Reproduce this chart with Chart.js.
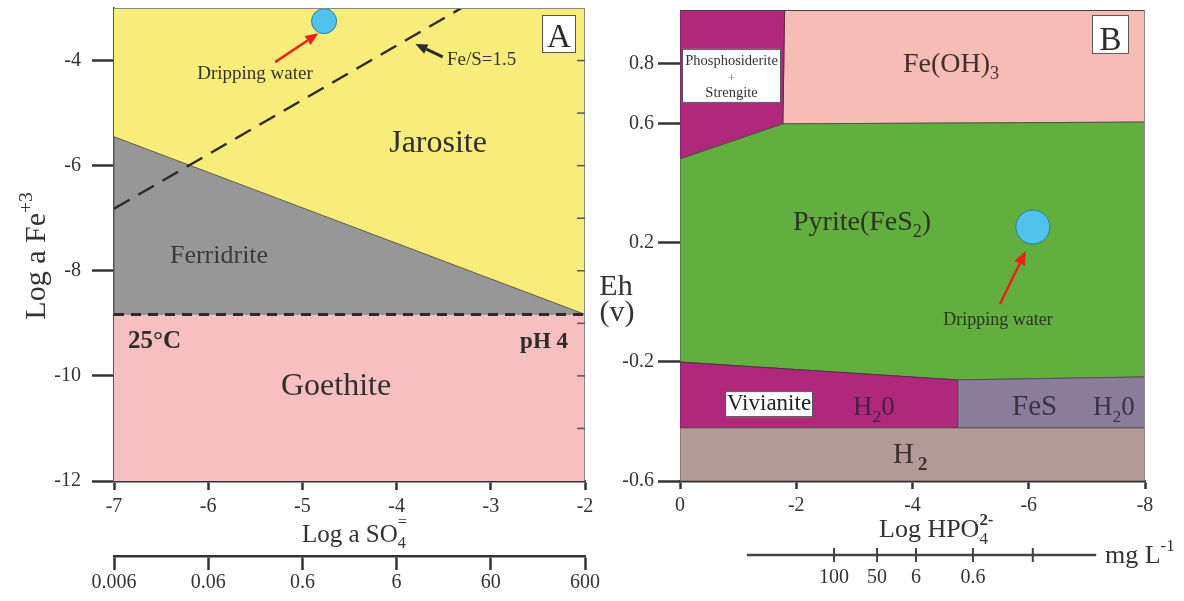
<!DOCTYPE html>
<html>
<head>
<meta charset="utf-8">
<script src="https://cdn.jsdelivr.net/npm/chart.js@4.4.1/dist/chart.umd.min.js"></script>
<style>
  html, body { margin: 0; padding: 0; background: #fff; }
  #wrap { position: relative; width: 1184px; height: 601px; overflow: hidden; }
  #chartA, #chartB { position: absolute; top: 0; }
  #chartA { left: 0; }
  #chartB { left: 600px; }
</style>
</head>
<body>
<div id="wrap">
  <canvas id="chartA" width="600" height="601"></canvas>
  <canvas id="chartB" width="584" height="601"></canvas>
</div>
<script>
// ---- Panel A: Log a Fe+3 vs Log a SO4 ----
const soTicks = [-7, -6, -5, -4, -3, -2];
const soMgLabels = ['0.006', '0.06', '0.6', '6', '60', '600'];
const feTicks = [-12, -10, -8, -6, -4];
const feMinorTicks = [-11, -10, -9, -8, -7, -6, -5, -4];

const jarositeArea = [[-7, -3], [-2, -3], [-2, -8.83], [-7, -5.45]];
const ferridriteArea = [[-7, -5.45], [-2, -8.83], [-7, -8.83]];
const goethiteArea = [[-7, -8.83], [-2, -8.83], [-2, -12], [-7, -12]];
const ph4Line = [[-7, -8.83], [-2, -8.83]];
const feSLine = [[-7, -6.82], [-3.31, -3.0]];
const dripA = [[-4.77, -3.25]];
const dripArrowA = [[-5.29, -4.03], [-4.83, -3.48]];
const feSArrow = [[-3.51, -3.93], [-3.80, -3.685]];

// ---- Panel B: Eh vs Log HPO4 ----
const hpoTicks = [0, -2, -4, -6, -8];
const ehTicks = [0.8, 0.6, 0.2, -0.2, -0.6];
const feOH3Area = [[-1.8, 0.98], [-8, 0.98], [-8, 0.604], [-1.77, 0.598]];
const phosphoArea = [[0, 0.98], [-1.8, 0.98], [-1.77, 0.598], [0, 0.48]];
const pyriteArea = [[0, 0.48], [-1.77, 0.598], [-8, 0.604], [-8, -0.251], [-4.78, -0.261], [0, -0.201]];
const vivianiteArea = [[0, -0.201], [-4.78, -0.261], [-4.78, -0.422], [0, -0.422]];
const fesArea = [[-4.78, -0.261], [-8, -0.251], [-8, -0.422], [-4.78, -0.422]];
const h2Area = [[0, -0.422], [-8, -0.422], [-8, -0.6], [0, -0.6]];
const dripB = [[-6.07, 0.252]];
const dripArrowB = [[-5.505, -0.006], [-5.95, 0.172]];
const mgTickPos = [-2.65, -3.39, -4.06, -5.04, -6.07];
const mgTickLabels = ['100', '50', '6', '0.6', ''];
const mgLineEnds = [-1.15, -7.16];

const serif = '"Liberation Serif", "Times New Roman", serif';
Chart.defaults.font.family = serif;

const xy = pts => pts.map(p => ({ x: p[0], y: p[1] }));

function area(pts, color, edge) {
    return {
        data: xy(pts.concat([pts[0]])),
        fill: 'shape',
        backgroundColor: color,
        borderColor: edge || 'rgba(0,0,0,0)',
        borderWidth: edge ? 1 : 0,
        pointRadius: 0,
        tension: 0
    };
}

function dashed(pts, dash, width) {
    return {
        data: xy(pts),
        fill: false,
        borderColor: '#2b2b2b',
        borderWidth: width,
        borderDash: dash,
        pointRadius: 0
    };
}

function dot(pts, r) {
    return {
        data: xy(pts),
        showLine: false,
        pointRadius: r,
        pointBackgroundColor: '#4fc3ee',
        pointBorderColor: '#2b7f96',
        pointBorderWidth: 1,
        clip: false
    };
}

// text with optional sub / superscript pieces
function drawRich(ctx, parts, x, y, size, align, color) {
    const segs = parts.map(p => typeof p === 'string' ? { t: p } : Object.assign({}, p));
    const fnt = (s, b) => (b ? 'bold ' : '') + s + 'px ' + serif;
    const small = size * 0.65;
    let w = 0;
    segs.forEach(s => {
        if (s.t !== undefined) {
            ctx.font = fnt(size, s.bold);
            s.w = ctx.measureText(s.t).width;
        } else {
            let a = 0, b = 0;
            if (s.sub) { ctx.font = fnt(small, s.subBold); a = ctx.measureText(s.sub).width; }
            if (s.sup) { ctx.font = fnt(small, s.supBold); b = ctx.measureText(s.sup).width; }
            s.w = Math.max(a, b) + (s.pre || 0);
        }
        w += s.w;
    });
    let cx = align === 'center' ? x - w / 2 : align === 'right' ? x - w : x;
    ctx.fillStyle = color || '#333';
    ctx.textAlign = 'left';
    ctx.textBaseline = 'alphabetic';
    segs.forEach(s => {
        if (s.t !== undefined) {
            ctx.font = fnt(size, s.bold);
            ctx.fillText(s.t, cx, y);
        } else {
            if (s.sub) { ctx.font = fnt(small, s.subBold); ctx.fillText(s.sub, cx + (s.pre || 0), y + size * 0.25); }
            if (s.sup) { ctx.font = fnt(small, s.supBold); ctx.fillText(s.sup, cx + (s.pre || 0), y - size * (s.raise || 0.45)); }
        }
        cx += s.w;
    });
}

function drawArrow(ctx, x1, y1, x2, y2, color, width, head) {
    const ang = Math.atan2(y2 - y1, x2 - x1);
    const bx = x2 - head * Math.cos(ang), by = y2 - head * Math.sin(ang);
    const hw = head * 0.42;
    ctx.strokeStyle = color;
    ctx.lineWidth = width;
    ctx.beginPath();
    ctx.moveTo(x1, y1);
    ctx.lineTo(bx, by);
    ctx.stroke();
    ctx.fillStyle = color;
    ctx.beginPath();
    ctx.moveTo(x2, y2);
    ctx.lineTo(bx + hw * Math.sin(ang), by - hw * Math.cos(ang));
    ctx.lineTo(bx - hw * Math.sin(ang), by + hw * Math.cos(ang));
    ctx.closePath();
    ctx.fill();
}

function labelBox(ctx, cx, cy, w, h) {
    ctx.fillStyle = '#fff';
    ctx.fillRect(cx - w / 2, cy - h / 2, w, h);
    ctx.strokeStyle = '#555';
    ctx.lineWidth = 1;
    ctx.strokeRect(cx - w / 2 + 0.5, cy - h / 2 + 0.5, w - 1, h - 1);
}

function frameEdges(chart, topColor, rightColor) {
    const { ctx, chartArea: a } = chart;
    ctx.save();
    ctx.lineWidth = 1;
    ctx.strokeStyle = topColor;
    ctx.beginPath(); ctx.moveTo(a.left, a.top + 0.5); ctx.lineTo(a.right, a.top + 0.5); ctx.stroke();
    ctx.strokeStyle = rightColor;
    ctx.beginPath(); ctx.moveTo(a.right - 0.5, a.top); ctx.lineTo(a.right - 0.5, a.bottom); ctx.stroke();
    ctx.restore();
}

function axisBase(extra) {
    return Object.assign({
        type: 'linear',
        z: 1,
        grid: { drawOnChartArea: false, tickWidth: 2.5, tickColor: '#333' },
        border: { color: '#333', width: 2.5 },
        ticks: { font: { family: serif, size: 20 }, color: '#333', autoSkip: false, maxRotation: 0, callback: v => String(v) }
    }, extra);
}

// ---------- Chart A ----------
const decorA = {
    id: 'decorA',
    afterDatasetsDraw(chart) {
        const { ctx, scales: { x, y }, chartArea: a } = chart;
        const px = v => x.getPixelForValue(v), py = v => y.getPixelForValue(v);
        frameEdges(chart, '#888', '#888');
        ctx.save();
        // inward ticks on the right edge
        ctx.strokeStyle = '#555';
        ctx.lineWidth = 1.5;
        feMinorTicks.forEach(v => {
            ctx.beginPath(); ctx.moveTo(a.right - 8, py(v)); ctx.lineTo(a.right, py(v)); ctx.stroke();
        });
        drawArrow(ctx, px(dripArrowA[0][0]), py(dripArrowA[0][1]), px(dripArrowA[1][0]), py(dripArrowA[1][1]), '#e8231d', 2.5, 13);
        drawArrow(ctx, px(feSArrow[0][0]), py(feSArrow[0][1]), px(feSArrow[1][0]), py(feSArrow[1][1]), '#2b2b2b', 3, 12);

        drawRich(ctx, ['Jarosite'], px(-3.56), py(-5.74), 32, 'center', '#2f2f2f');
        drawRich(ctx, ['Ferridrite'], px(-5.885), py(-7.85), 26, 'center', '#3a3a3a');
        drawRich(ctx, ['Goethite'], px(-4.643), py(-10.36), 32, 'center', '#2f2f2f');
        drawRich(ctx, [{ t: '25°C', bold: true }], px(-6.851), py(-9.469), 25, 'left', '#2b2b2b');
        drawRich(ctx, [{ t: 'pH 4', bold: true }], px(-2.18), py(-9.469), 23, 'right', '#2b2b2b');
        drawRich(ctx, ['Dripping water'], px(-5.503), py(-4.351), 19, 'center', '#333');
        drawRich(ctx, ['Fe/S=1.5'], px(-3.465), py(-4.084), 19, 'left', '#333');

        labelBox(ctx, px(-2.276), py(-3.495), 34, 38);
        drawRich(ctx, ['A'], px(-2.276), py(-3.742), 33, 'center', '#2b2b2b');
        ctx.restore();
    },
    afterDraw(chart) {
        const { ctx } = chart;
        ctx.save();
        ctx.translate(45, 256);
        ctx.rotate(-Math.PI / 2);
        drawRich(ctx, ['Log a Fe', { sup: '+3' }], 0, 0, 30, 'center', '#333');
        ctx.restore();
        ctx.save();
        drawRich(ctx, ['Log a SO', { sub: '4', sup: '=', raise: 0.62 }], 302, 542, 25, 'left', '#333');
        ctx.restore();
    }
};

// datasets listed top-most first (Chart.js paints the last one first)
new Chart(document.getElementById('chartA'), {
    type: 'line',
    data: {
        datasets: [
            dot(dripA, 12.5),
            dashed(feSLine, [18, 10], 2.5),
            dashed(ph4Line, [10, 7], 3),
            area(goethiteArea, '#f7bfbf'),
            area(ferridriteArea, '#979797', '#5d5a40'),
            area(jarositeArea, '#f8ec7b')
        ]
    },
    options: {
        responsive: false,
        animation: false,
        events: [],
        layout: { autoPadding: false, padding: { top: 8, right: 15, bottom: 0, left: 0 } },
        plugins: { legend: { display: false }, tooltip: { enabled: false } },
        scales: {
            x: axisBase({
                min: -7, max: -2, position: 'bottom', weight: 0,
                afterBuildTicks: s => { s.ticks = soTicks.map(v => ({ value: v })); },
                afterFit: s => { s.height = 75; s.paddingLeft = 0; s.paddingRight = 0; },
                grid: { drawOnChartArea: false, tickLength: 9, tickWidth: 2.5, tickColor: '#333' },
                ticks: { font: { family: serif, size: 20 }, color: '#333', padding: 5, autoSkip: false, maxRotation: 0, callback: v => String(v) }
            }),
            x2: axisBase({
                min: -7, max: -2, position: 'bottom', weight: 1,
                afterBuildTicks: s => { s.ticks = soTicks.map(v => ({ value: v })); },
                afterFit: s => { s.height = 45; s.paddingLeft = 0; s.paddingRight = 0; },
                grid: { drawOnChartArea: false, tickLength: 14, tickWidth: 2.5, tickColor: '#333' },
                ticks: { font: { family: serif, size: 20 }, color: '#333', padding: 1, autoSkip: false, maxRotation: 0,
                         callback: v => soMgLabels[soTicks.indexOf(v)] }
            }),
            y: axisBase({
                min: -12, max: -3, position: 'left',
                afterBuildTicks: s => { s.ticks = feTicks.map(v => ({ value: v })); },
                afterFit: s => { s.width = 114; s.paddingTop = 0; s.paddingBottom = 0; },
                grid: { drawOnChartArea: false, tickLength: 22, tickWidth: 2.5, tickColor: '#333' },
                border: { color: '#555', width: 1.5 },
                ticks: { font: { family: serif, size: 20 }, color: '#333', padding: 11, callback: v => String(v) }
            })
        }
    },
    plugins: [decorA]
});

// ---------- Chart B ----------
const decorB = {
    id: 'decorB',
    afterDatasetsDraw(chart) {
        const { ctx, scales: { x, y } } = chart;
        const px = v => x.getPixelForValue(v), py = v => y.getPixelForValue(v);
        frameEdges(chart, '#444', '#888');
        ctx.save();
        drawArrow(ctx, px(dripArrowB[0][0]), py(dripArrowB[0][1]), px(dripArrowB[1][0]), py(dripArrowB[1][1]), '#e8231d', 2.5, 14);

        labelBox(ctx, px(-0.886), py(0.759), 99, 54);
        drawRich(ctx, ['Phosphosiderite'], px(-0.886), py(0.795), 14.5, 'center', '#333');
        drawRich(ctx, ['+'], px(-0.886), py(0.74), 13, 'center', '#777');
        drawRich(ctx, ['Strengite'], px(-0.886), py(0.688), 14.5, 'center', '#333');

        drawRich(ctx, ['Fe(OH)', { sub: '3' }], px(-3.837), py(0.772), 28, 'left', '#3a3030');
        drawRich(ctx, ['Pyrite(FeS', { sub: '2' }, ')'], px(-1.944), py(0.242), 28, 'left', '#2d3326');
        drawRich(ctx, ['Dripping water'], px(-5.471), py(-0.077), 18, 'center', '#2d3326');

        labelBox(ctx, px(-1.531), py(-0.342), 88, 26);
        drawRich(ctx, ['Vivianite'], px(-1.531), py(-0.362), 23, 'center', '#222');
        drawRich(ctx, ['H', { sub: '2' }, '0'], px(-2.976), py(-0.379), 27, 'left', '#4a2040');
        drawRich(ctx, ['FeS'], px(-5.712), py(-0.379), 29, 'left', '#3a3444');
        drawRich(ctx, ['H', { sub: '2' }, '0'], px(-7.105), py(-0.379), 27, 'left', '#3a3444');
        drawRich(ctx, ['H', { sub: '2', subBold: true, pre: 4 }], px(-3.665), py(-0.54), 29, 'left', '#3a3030');

        labelBox(ctx, px(-7.406), py(0.898), 37, 39);
        drawRich(ctx, ['B'], px(-7.406), py(0.846), 33, 'center', '#2b2b2b');
        ctx.restore();
    },
    afterDraw(chart) {
        const { ctx, scales: { x } } = chart;
        const px = v => x.getPixelForValue(v);
        ctx.save();
        drawRich(ctx, ['Eh'], 16, 295, 30, 'center', '#333');
        drawRich(ctx, ['(v)'], 17, 321, 30, 'center', '#333');
        drawRich(ctx, ['Log HPO', { sub: '4', sup: '2-', supBold: true }], 279, 537, 26, 'left', '#333');

        // mg/L scale
        ctx.strokeStyle = '#444';
        ctx.lineWidth = 2.5;
        ctx.beginPath(); ctx.moveTo(px(mgLineEnds[0]), 555); ctx.lineTo(px(mgLineEnds[1]), 555); ctx.stroke();
        ctx.lineWidth = 2;
        mgTickPos.forEach((v, i) => {
            ctx.beginPath(); ctx.moveTo(px(v), 548); ctx.lineTo(px(v), 562); ctx.stroke();
            if (mgTickLabels[i]) drawRich(ctx, [mgTickLabels[i]], px(v), 583, 20, 'center', '#333');
        });
        drawRich(ctx, ['mg L', { sup: '-1' }], 505, 563, 26, 'left', '#333');
        ctx.restore();
    }
};

new Chart(document.getElementById('chartB'), {
    type: 'line',
    data: {
        datasets: [
            dot(dripB, 17),
            area(h2Area, '#b39a96', '#6a5a58'),
            area(fesArea, '#8b7c9c', '#5a5060'),
            area(vivianiteArea, '#b0287c', '#5a2a48'),
            area(pyriteArea, '#62ae3f', '#4a5a40'),
            area(phosphoArea, '#b0287c', '#5a2a48'),
            area(feOH3Area, '#f8bcb6', '#777')
        ]
    },
    options: {
        responsive: false,
        animation: false,
        events: [],
        layout: { autoPadding: false, padding: { top: 10, right: 39, bottom: 0, left: 0 } },
        plugins: { legend: { display: false }, tooltip: { enabled: false } },
        scales: {
            x: axisBase({
                min: -8, max: 0, reverse: true, position: 'bottom',
                afterBuildTicks: s => { s.ticks = hpoTicks.map(v => ({ value: v })); },
                afterFit: s => { s.height = 120; s.paddingLeft = 0; s.paddingRight = 0; },
                grid: { drawOnChartArea: false, tickLength: 8, tickWidth: 2.5, tickColor: '#333' },
                ticks: { font: { family: serif, size: 20 }, color: '#333', padding: 5, autoSkip: false, maxRotation: 0, callback: v => String(v) }
            }),
            y: axisBase({
                min: -0.6, max: 0.98, position: 'left',
                afterBuildTicks: s => { s.ticks = ehTicks.map(v => ({ value: v })); },
                afterFit: s => { s.width = 80; s.paddingTop = 0; s.paddingBottom = 0; },
                grid: { drawOnChartArea: false, tickLength: 22, tickWidth: 2.5, tickColor: '#333' },
                border: { color: '#555', width: 1 },
                ticks: { font: { family: serif, size: 20 }, color: '#333', padding: 4, callback: v => String(v) }
            })
        }
    },
    plugins: [decorB]
});
</script>
</body>
</html>
